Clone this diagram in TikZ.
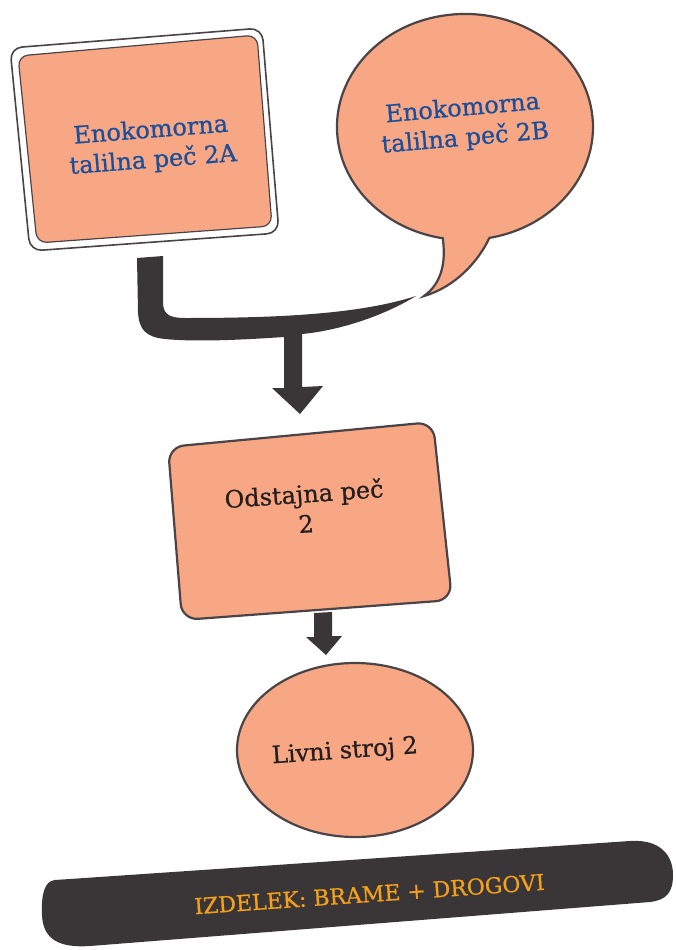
\documentclass[tikz,border=0pt]{standalone}
\usepackage{fontspec}
\setmainfont{DejaVu Serif}[BoldFont={DejaVu Serif}, BoldFeatures={FakeBold=0.7}]
\definecolor{peach}{HTML}{F7A783}
\definecolor{ink}{HTML}{3A3638}
\definecolor{edge}{HTML}{4A4446}
\definecolor{navy}{HTML}{1B4E9B}
\definecolor{txt}{HTML}{231F20}
\definecolor{gold}{HTML}{F5A01A}
\begin{document}
\begin{tikzpicture}[x=1pt,y=-1pt,
  lbl/.style={align=center, font=\fontsize{24}{30}\selectfont\bfseries, inner sep=0pt},
  shapeline/.style={draw=edge, line width=2.2pt, fill=peach},
]
\useasboundingbox (0,0) rectangle (675,950);
\fill[white] (0,0) rectangle (675,950);

% Box 2A (double frame)
\draw[edge, line width=1.6pt, fill=white, rounded corners=12pt] (10,48) -- (262,28) -- (279,233) -- (30,251) -- cycle;
\draw[draw=edge, line width=1.2pt, fill=peach, rounded corners=10pt] (18,56) -- (257,35) -- (272,226) -- (37,243) -- cycle;
\node[lbl, text=navy, rotate=4.5] (A) at (152,146) {Enokomorna\\talilna peč 2A};

% Speech bubble 2B
\draw[shapeline] (489.4,237.9) arc[start angle=79, end angle=-260, x radius=128, y radius=113]
  .. controls (446,262) and (442,283) .. (424,296)
  .. controls (455,287) and (478,262) .. (489.4,237.9) -- cycle;
\node[lbl, text=navy, rotate=5] (B) at (464,124) {Enokomorna\\talilna peč 2B};

% Merging connector
\coordinate (A-out) at (150,257);
\coordinate (B-out) at (416,296);
\coordinate (C-in) at (300,414);
\fill[ink] (137,258) -- (163,256) -- (163,304)
  .. controls (164,315) and (170,318) .. (186,318)
  .. controls (280,318) and (360,314) .. (B-out)
  .. controls (380,318) and (335,331) .. (302,334)
  -- (302,387) -- (323,386) -- (C-in) -- (272,388) -- (284,388) -- (284,337)
  .. controls (240,340) and (195,342) .. (165,339)
  .. controls (146,337) and (139,330) .. (138,312) -- cycle;

% Box Odstajna
\draw[shapeline, rounded corners=16pt] (168,447) -- (433,422) -- (452,600) -- (182,620) -- cycle;
\node[lbl, text=txt, rotate=4] (C) at (305,508) {Odstajna peč\\2};

% Arrow C -> D
\coordinate (C-out) at (323,612);
\coordinate (D-in) at (326,655);
\fill[ink] (314,613) -- (332,612) -- (332,636) -- (342,636) -- (D-in) -- (306,637) -- (314,637) -- cycle;

% Ellipse Livni
\draw[shapeline] (355,750) ellipse [x radius=118, y radius=87];
\node[lbl, text=txt, rotate=4] (D) at (345,752) {Livni stroj 2};

% Banner
\fill[ink] (55,880) -- (630,841) .. controls (660,839) and (673,855) .. (673,875)
  .. controls (673,893) and (666,900) .. (650,902) -- (90,946)
  .. controls (60,948) and (43,940) .. (42,915)
  .. controls (41,893) and (45,881) .. (55,880) -- cycle;
\node[text=gold, font=\fontsize{22}{26}\selectfont\bfseries, rotate=4, anchor=base, inner sep=0pt] (E) at (370,902) {IZDELEK: BRAME + DROGOVI};
\end{tikzpicture}
\end{document}
